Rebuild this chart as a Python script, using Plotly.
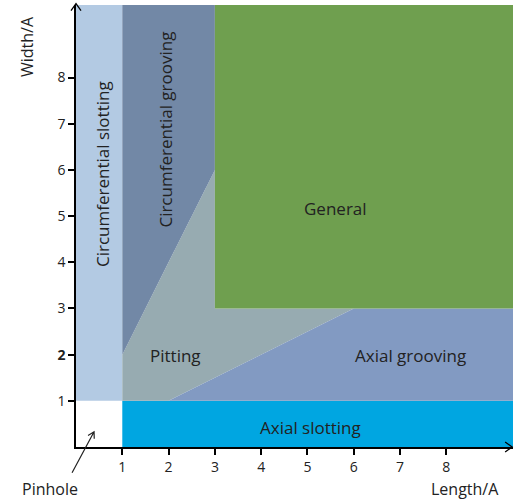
import plotly.graph_objects as go

# Axis extents (data units)
XMAX = 9.44
YMAX = 9.57

# Region polygons (x, y vertices)
regions = {
    "Circumferential slotting": ([0, 1, 1, 0], [1, 1, YMAX, YMAX]),
    "Axial slotting": ([1, XMAX, XMAX, 1], [0, 0, 1, 1]),
    "Pitting": ([1, 2, 6, 3, 3, 1], [1, 1, 3, 3, 6, 2]),
    "Axial grooving": ([2, XMAX, XMAX, 6], [1, 1, 3, 3]),
    "Circumferential grooving": ([1, 3, 3, 1], [2, 6, YMAX, YMAX]),
    "General": ([3, XMAX, XMAX, 3], [3, 3, YMAX, YMAX]),
}
colors = {
    "Circumferential slotting": "#b3cae3",
    "Axial slotting": "#00a6e1",
    "Pitting": "#97abb1",
    "Axial grooving": "#829ac2",
    "Circumferential grooving": "#7288a6",
    "General": "#6f9f4f",
}
# Label positions (data units)
labels = [
    ("Circumferential slotting", 0.57, 5.92, -90),
    ("Circumferential grooving", 1.93, 6.88, -90),
    ("General", 5.6, 5.17, 0),
    ("Pitting", 2.15, 1.98, 0),
    ("Axial grooving", 7.23, 1.98, 0),
    ("Axial slotting", 5.07, 0.43, 0),
]
# Pinhole arrow head (data units)
pin_x, pin_y = 0.39, 0.33

x_ticks = [1, 2, 3, 4, 5, 6, 7, 8]
y_ticks = [1, 2, 3, 4, 5, 6, 7, 8]
y_tick_text = ["1", "<b>2</b>", "3", "4", "5", "6", "7", "8"]

FONT = "Open Sans"
TXT = "#222222"

fig = go.Figure()
for name, (xs, ys) in regions.items():
    fig.add_trace(go.Scatter(
        x=xs + [xs[0]], y=ys + [ys[0]], fill="toself", mode="lines",
        line=dict(width=0, color=colors[name]), fillcolor=colors[name],
        hoverinfo="skip", showlegend=False,
    ))

for text, x, y, ang in labels:
    fig.add_annotation(x=x, y=y, text=text, showarrow=False, textangle=ang,
                       xanchor="center", yanchor="middle",
                       font=dict(family=FONT, size=17, color=TXT))

# Pinhole arrow: line plus open chevron head, anchored at the head point
fig.add_shape(type="path", xref="paper", yref="paper", xsizemode="pixel",
              ysizemode="pixel", xanchor=pin_x / XMAX, yanchor=pin_y / YMAX,
              path="M -22,-41 L 0,0 M 0.2,-7 L 0,0 L -6,-3.7",
              line=dict(color="#222222", width=1.2))
fig.add_annotation(xref="paper", yref="paper", x=-0.059, y=-0.096, text="Pinhole",
                   xanchor="center", yanchor="middle",
                   showarrow=False, font=dict(family=FONT, size=16, color=TXT))

# Axis titles
fig.add_annotation(xref="paper", yref="paper", x=0.89, y=-0.096, text="Length/A",
                   xanchor="center", yanchor="middle",
                   showarrow=False, font=dict(family=FONT, size=16, color=TXT))
fig.add_annotation(xref="paper", yref="paper", x=-0.112, y=0.905, text="Width/A",
                   xanchor="center", yanchor="middle",
                   showarrow=False, textangle=-90,
                   font=dict(family=FONT, size=16, color=TXT))

# Axis end chevrons
fig.add_shape(type="path", xref="paper", yref="paper", xsizemode="pixel",
              ysizemode="pixel", xanchor=0, yanchor=1.003,
              path="M -5,-7 L 0,0 L 5,-7", line=dict(color="black", width=1.3))
fig.add_shape(type="path", xref="paper", yref="paper", xsizemode="pixel",
              ysizemode="pixel", xanchor=0.998, yanchor=0,
              path="M -7,-5 L 0,0 L -7,5", line=dict(color="black", width=1.3))

fig.update_xaxes(range=[0, XMAX], tickvals=x_ticks, ticks="outside", ticklen=6,
                 tickwidth=1.5, tickcolor="black", showline=True, linecolor="black",
                 linewidth=1.5, showgrid=False, zeroline=False,
                 tickfont=dict(family=FONT, size=14, color=TXT))
fig.update_yaxes(range=[0, YMAX], tickvals=y_ticks, ticktext=y_tick_text,
                 ticks="outside", ticklen=6,
                 tickwidth=1.5, tickcolor="black", showline=True, linecolor="black",
                 linewidth=1.5, showgrid=False, zeroline=False,
                 tickfont=dict(family=FONT, size=14, color=TXT))

fig.update_layout(width=514, height=499, margin=dict(l=76, r=1, t=5, b=52),
                  plot_bgcolor="white", paper_bgcolor="white")

fig.write_html("out.html", config={"displayModeBar": False},
               post_script="document.body.style.margin='0';")
